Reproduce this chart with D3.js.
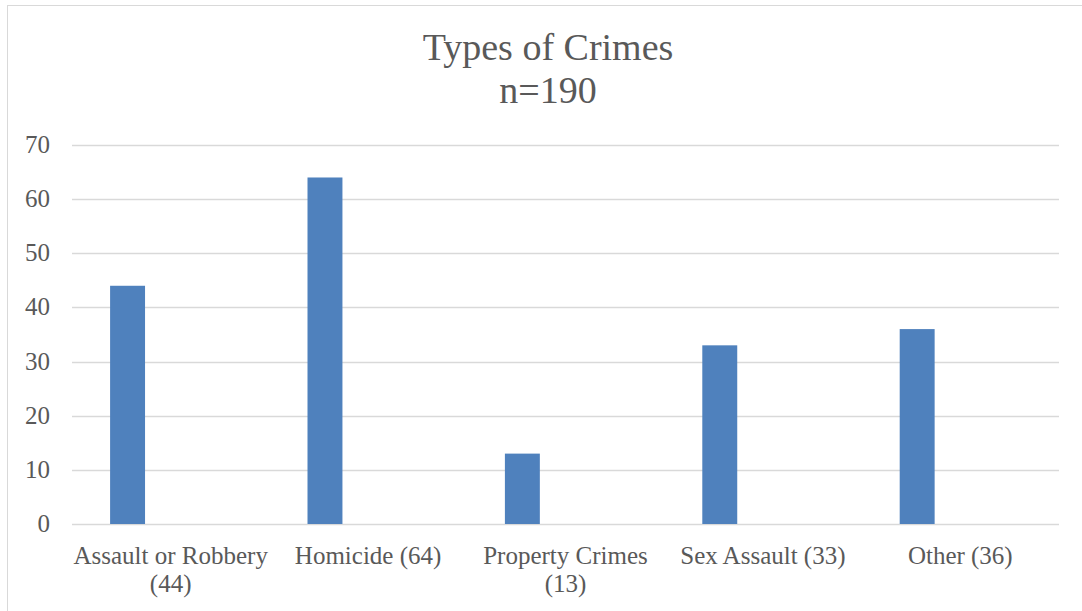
<!DOCTYPE html>
<html>
<head>
<meta charset="utf-8">
<script src="https://cdn.jsdelivr.net/npm/d3@7"></script>
<style>
  html, body { margin: 0; padding: 0; background: #fff; }
  svg text { font-family: "Liberation Serif", "Times New Roman", serif; fill: #595959; }
</style>
</head>
<body>
<svg id="chart" width="1082" height="611"></svg>
<script>
// chart data
var categories = ["Assault or Robbery (44)", "Homicide (64)", "Property Crimes (13)", "Sex Assault (33)", "Other (36)"];
var counts = [44, 64, 13, 33, 36];
var yTicks = [0, 10, 20, 30, 40, 50, 60, 70];
var titleLines = ["Types of Crimes", "n=190"];

var svg = d3.select("#chart");

// outer chart border (runs off the right / bottom edge)
svg.append("rect")
  .attr("x", 7.5).attr("y", 5.5)
  .attr("width", 1200).attr("height", 800)
  .attr("fill", "none")
  .attr("stroke", "#d9d9d9");

var plotL = 72, plotR = 1059, plotT = 145, plotB = 524;

var x = d3.scaleBand().domain(categories).range([plotL, plotR]);
var y = d3.scaleLinear().domain([0, 70]).range([plotB, plotT]);

// title
svg.append("text")
  .attr("x", 548).attr("y", 60)
  .attr("text-anchor", "middle")
  .style("font-size", "38px")
  .selectAll("tspan")
  .data(titleLines)
  .enter().append("tspan")
    .attr("x", 548)
    .attr("dy", function(d, i){ return i == 0 ? 0 : 43; })
    .text(function(d){ return d; });

// gridlines
svg.append("g")
  .selectAll("line")
  .data(yTicks)
  .enter().append("line")
    .attr("x1", plotL).attr("x2", plotR)
    .attr("y1", function(d){ return Math.round(y(d)) + 0.5; })
    .attr("y2", function(d){ return Math.round(y(d)) + 0.5; })
    .attr("stroke", "#d9d9d9")
    .attr("stroke-width", 1.3);

// y axis labels
svg.append("g")
  .selectAll("text")
  .data(yTicks)
  .enter().append("text")
    .attr("x", 50)
    .attr("y", function(d){ return y(d) + 8; })
    .attr("text-anchor", "end")
    .style("font-size", "25px")
    .text(function(d){ return d; });

// bars (first series slot of each category)
var bw = x.bandwidth();
svg.append("g")
  .selectAll("rect")
  .data(counts)
  .enter().append("rect")
    .attr("x", function(d, i){ return x(categories[i]) + bw * 0.193; })
    .attr("width", bw * 0.177)
    .attr("y", function(d){ return y(d); })
    .attr("height", function(d){ return y(0) - y(d); })
    .attr("fill", "#4f81bd");

// category labels, wrapped to the band width
var labels = svg.append("g")
  .selectAll("text")
  .data(categories)
  .enter().append("text")
    .attr("x", function(d){ return x(d) + bw / 2; })
    .attr("y", 564)
    .attr("text-anchor", "middle")
    .style("font-size", "25px");

labels.each(function(d){
  var t = d3.select(this);
  var words = d.split(" ");
  var line = [];
  var tspan = t.append("tspan").attr("x", t.attr("x")).attr("dy", 0);
  words.forEach(function(w){
    line.push(w);
    tspan.text(line.join(" "));
    if( tspan.node().getComputedTextLength() > bw + 6 && line.length > 1 ){
      line.pop();
      tspan.text(line.join(" "));
      line = [w];
      tspan = t.append("tspan").attr("x", t.attr("x")).attr("dy", 28).text(w);
    }
  });
});
</script>
</body>
</html>
